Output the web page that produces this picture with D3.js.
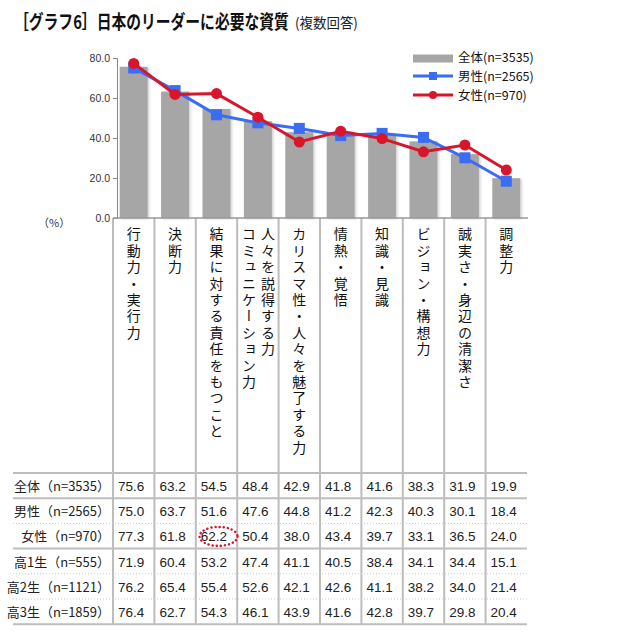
<!DOCTYPE html>
<html><head><meta charset="utf-8">
<script src="https://cdn.jsdelivr.net/npm/d3@7"></script>
<style>
html,body{margin:0;padding:0;background:#fff;}
svg{display:block;}
</style></head>
<body>
<svg id="chart" width="641" height="636"></svg>
<script>
// ---------- DATA ----------
const categories = [
  ["行動力・実行力"],
  ["決断力"],
  ["結果に対する責任をもつこと"],
  ["人々を説得する力", "コミュニケーション力"],
  ["カリスマ性・人々を魅了する力"],
  ["情熱・覚悟"],
  ["知識・見識"],
  ["ビジョン・構想力"],
  ["誠実さ・身辺の清潔さ"],
  ["調整力"]
];
const rowLabels = ["全体（n=3535）","男性（n=2565）","女性（n=970）","高1生（n=555）","高2生（n=1121）","高3生（n=1859）"];
const total  = [75.6, 63.2, 54.5, 48.4, 42.9, 41.8, 41.6, 38.3, 31.9, 19.9];
const male   = [75.0, 63.7, 51.6, 47.6, 44.8, 41.2, 42.3, 40.3, 30.1, 18.4];
const female = [77.3, 61.8, 62.2, 50.4, 38.0, 43.4, 39.7, 33.1, 36.5, 24.0];
const grade1 = [71.9, 60.4, 53.2, 47.4, 41.1, 40.5, 38.4, 34.1, 34.4, 15.1];
const grade2 = [76.2, 65.4, 55.4, 52.6, 42.1, 42.6, 41.1, 38.2, 34.0, 21.4];
const grade3 = [76.4, 62.7, 54.3, 46.1, 43.9, 41.6, 42.8, 39.7, 29.8, 20.4];
const yTicks = [0, 20, 40, 60, 80];
const legendLabels = ["全体(n=3535)", "男性(n=2565)", "女性(n=970)"];
const titleMain = "［グラフ6］日本のリーダーに必要な資質";
const titleSub = "(複数回答)";

// ---------- LAYOUT ----------
const svg = d3.select("#chart");
const JP = "'Noto Sans CJK JP','Noto Sans',sans-serif";
const NUM = "'Liberation Sans',Arial,sans-serif";
const colGray = "#a6a6a6", colBlue = "#3a6cf4", colRed = "#d8152b";
const idx = d3.range(categories.length);

const x = d3.scaleBand().domain(idx).range([113, 527]).paddingInner(0).paddingOuter(0);
const y = d3.scaleLinear().domain([0, 80]).range([218, 58]);
const cx = i => x(i) + x.bandwidth() / 2;

const defs = svg.append("defs");
const f = defs.append("filter").attr("id","sh").attr("x","-20%").attr("y","-20%").attr("width","150%").attr("height","150%");
f.append("feDropShadow").attr("dx",1.5).attr("dy",1).attr("stdDeviation",1.2).attr("flood-color","#000").attr("flood-opacity",0.18);

// Title (horizontally condensed via scale transform)
function condensed(str, x0, y0, width, attrs) {
  const g = svg.append("g");
  const t = g.append("text").attr("x", 0).attr("y", 0).text(str);
  Object.entries(attrs).forEach(([k, v]) => t.attr(k, v));
  const w = t.node().getComputedTextLength();
  g.attr("transform", `translate(${x0},${y0}) scale(${width / w},1)`);
}
condensed(titleMain, 14, 29, 275, {"font-family": JP, "font-weight": "bold", "font-size": 19, "fill": "#111"});
condensed(titleSub, 295, 28, 63, {"font-family": JP, "font-size": 14, "fill": "#222"});

// Column separators (category label area + table)
const sepX = idx.map(i => x(i));
svg.append("g").selectAll("line").data(sepX).join("line")
  .attr("x1", d => d).attr("x2", d => d).attr("y1", 218).attr("y2", 624)
  .attr("stroke", "#bdbdbd").attr("stroke-width", 2);

// Table horizontal lines
const rowTop = 473, rowH = 25.2;
const hLines = d3.range(rowLabels.length + 1).map(i => ({y: rowTop + i * rowH, dotted: (i === 2 || i === 4 || i === 5)}));
svg.append("g").selectAll("line").data(hLines).join("line")
  .attr("x1", 13).attr("x2", 527).attr("y1", d => d.y).attr("y2", d => d.y)
  .attr("stroke", d => d.dotted ? "#c8c8c8" : "#bdbdbd")
  .attr("stroke-width", d => d.dotted ? 1 : 2)
  .attr("stroke-dasharray", d => d.dotted ? "1,2" : null);

// Bars
svg.append("g").attr("filter","url(#sh)").selectAll("rect").data(total).join("rect")
  .attr("x", (d, i) => cx(i) - 14).attr("width", 28)
  .attr("y", d => y(d)).attr("height", d => y(0) - y(d))
  .attr("fill", colGray);

// Axes
const yAxis = d3.axisLeft(y).tickValues(yTicks).tickFormat(d3.format(".1f")).tickSize(4).tickPadding(3);
const gy = svg.append("g").attr("transform", "translate(117,0)").call(yAxis);
gy.select(".domain").attr("stroke", "#888");
gy.selectAll(".tick line").attr("stroke", "#888");
gy.selectAll(".tick text").attr("font-family", NUM).attr("font-size", 10.5).attr("fill", "#333");
svg.append("line").attr("x1", 113).attr("x2", 528).attr("y1", y(0)).attr("y2", y(0)).attr("stroke", "#999").attr("stroke-width", 1.5);

svg.append("text").attr("x", 38).attr("y", 227).attr("font-family", JP).attr("font-size", 11).attr("fill", "#333").text("（%）");

// Lines
const line = d3.line().x((d, i) => cx(i)).y(d => y(d));
svg.append("path").datum(male).attr("d", line).attr("fill", "none").attr("stroke", colBlue).attr("stroke-width", 3);
svg.append("g").selectAll("rect").data(male).join("rect")
  .attr("x", (d, i) => cx(i) - 5.5).attr("y", d => y(d) - 5.5).attr("width", 11).attr("height", 11).attr("fill", colBlue);
svg.append("path").datum(female).attr("d", line).attr("fill", "none").attr("stroke", colRed).attr("stroke-width", 3);
svg.append("g").selectAll("circle").data(female).join("circle")
  .attr("cx", (d, i) => cx(i)).attr("cy", d => y(d)).attr("r", 5.5).attr("fill", colRed);

// Legend
const lg = svg.append("g");
lg.append("rect").attr("x", 413).attr("y", 54.5).attr("width", 40).attr("height", 8).attr("fill", colGray);
lg.append("line").attr("x1", 413).attr("x2", 453).attr("y1", 76).attr("y2", 76).attr("stroke", colBlue).attr("stroke-width", 3);
lg.append("rect").attr("x", 429).attr("y", 72).attr("width", 8).attr("height", 8).attr("fill", colBlue);
lg.append("line").attr("x1", 413).attr("x2", 453).attr("y1", 95).attr("y2", 95).attr("stroke", colRed).attr("stroke-width", 3);
lg.append("circle").attr("cx", 433).attr("cy", 95).attr("r", 4).attr("fill", colRed);
lg.selectAll("text").data(legendLabels).join("text")
  .attr("x", 458).attr("y", (d, i) => 62 + i * 19)
  .attr("font-family", JP).attr("font-size", 12.5).attr("fill", "#111").text(d => d);

// Category labels (vertical)
const catG = svg.append("g");
categories.forEach((lines, i) => {
  const n = lines.length;
  lines.forEach((t, j) => {
    const xx = n === 1 ? cx(i) : cx(i) + 10 - j * 19;
    catG.append("text")
      .attr("x", xx).attr("y", 227)
      .attr("font-family", JP).attr("font-size", 14)
      .attr("letter-spacing", 2.4)
      .attr("fill", "#111")
      .style("writing-mode", "vertical-rl")
      .text(t);
  });
});

// Table
const tableData = [total, male, female, grade1, grade2, grade3];
const tg = svg.append("g");
tg.selectAll("text.rl").data(rowLabels).join("text").attr("class", "rl")
  .attr("x", 110).attr("y", (d, i) => rowTop + i * rowH + 18)
  .attr("text-anchor", "end").attr("font-family", JP).attr("font-size", 13).attr("fill", "#222")
  .text(d => d);
tableData.forEach((row, r) => {
  tg.selectAll("text.v" + r).data(row).join("text").attr("class", "v" + r)
    .attr("x", (d, i) => x(i) + 5).attr("y", rowTop + r * rowH + 18)
    .attr("font-family", NUM).attr("font-size", 13.5).attr("fill", "#222")
    .text(d => d.toFixed(1));
});

// Highlight ellipse around 女性 結果に対する責任 value
svg.append("ellipse").attr("cx", cx(2) + 2).attr("cy", rowTop + 2 * rowH + 13)
  .attr("rx", 19).attr("ry", 9.5)
  .attr("fill", "none").attr("stroke", colRed).attr("stroke-width", 2.5)
  .attr("stroke-dasharray", "0.1,4").attr("stroke-linecap", "round");
</script>
</body></html>
